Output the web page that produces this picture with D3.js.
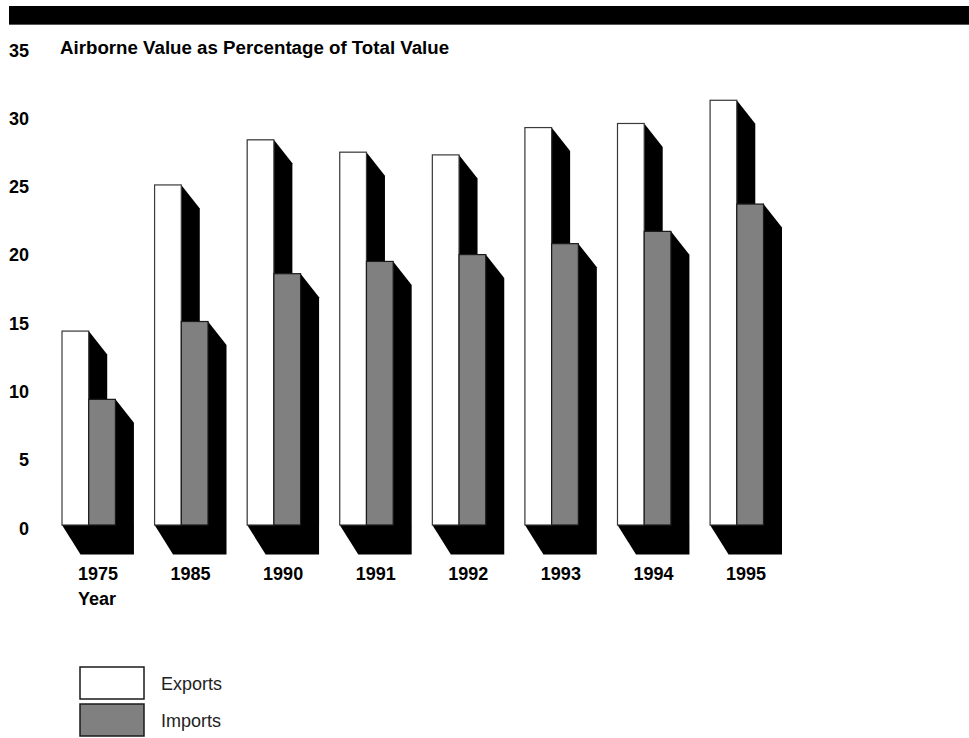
<!DOCTYPE html>
<html>
<head>
<meta charset="utf-8">
<script src="https://cdn.jsdelivr.net/npm/d3@7"></script>
<style>
  html, body { margin: 0; padding: 0; background: #fff; }
  svg { display: block; font-family: "Liberation Sans", Arial, Helvetica, sans-serif; }
</style>
</head>
<body>
<svg id="chart" width="969" height="738"></svg>
<script>
// ---- data ----
const years = ["1975", "1985", "1990", "1991", "1992", "1993", "1994", "1995"];
const seriesNames = ["Exports", "Imports"];
const exportsValues = [14.2, 24.9, 28.2, 27.3, 27.1, 29.1, 29.4, 31.1];
const importsValues = [9.2, 14.9, 18.4, 19.3, 19.8, 20.6, 21.5, 23.5];
const yTicks = [0, 5, 10, 15, 20, 25, 30, 35];
const titleText = "Airborne Value as Percentage of Total Value";
const xAxisTitle = "Year";

const seriesColors = { Exports: "#ffffff", Imports: "#808080" };
const seriesStroke = { Exports: "#3a3a3a", Imports: "#1a1a1a" };

const svg = d3.select("#chart");

// top black band
svg.append("rect").attr("x", 9).attr("y", 6).attr("width", 960).attr("height", 18).attr("fill", "#000");
svg.append("line").attr("x1", 9).attr("x2", 969).attr("y1", 24.5).attr("y2", 24.5).attr("stroke", "#555").attr("stroke-width", 1);

// scales
const y = d3.scaleLinear().domain([0, 35]).range([525, 47]);
const x = d3.scaleBand().domain(years).range([62, 763.5]).paddingInner(0.423).paddingOuter(0);
const xs = d3.scaleBand().domain(seriesNames).range([0, x.bandwidth()]).padding(0);

// y axis labels
const yAxis = d3.axisLeft(y).tickValues(yTicks).tickSize(0).tickPadding(0).tickFormat(d3.format("d"));
const gy = svg.append("g").attr("transform", "translate(29,0)").call(yAxis);
gy.select(".domain").remove();
gy.selectAll("text")
  .attr("dy", "0.5em")
  .attr("font-family", "Liberation Sans, Arial, sans-serif")
  .attr("font-size", 18).attr("font-weight", "bold").attr("fill", "#000");

// title
svg.append("text").attr("x", 60).attr("y", 54)
  .attr("font-size", 18.7).attr("font-weight", "bold").attr("fill", "#000")
  .text(titleText);

// bars with 3D shadow
const base = y(0);
const dxTop = 18.5, dyTop = 23.5, dxBase = 18.5, dyBase = 29.5;

const rows = years.map((yr, i) => ({ year: yr, values: [
  { name: "Exports", value: exportsValues[i] },
  { name: "Imports", value: importsValues[i] }
]}));

const groups = svg.append("g").selectAll("g").data(rows).join("g")
  .attr("transform", d => `translate(${x(d.year)},0)`);

// shadows first
groups.selectAll("polygon.shadow").data(d => d.values).join("polygon")
  .attr("class", "shadow")
  .attr("fill", "#000")
  .attr("points", d => {
    const x0 = xs(d.name), x1 = x0 + xs.bandwidth(), top = y(d.value);
    return [[x0, top], [x1, top], [x1 + dxTop, top + dyTop], [x1 + dxBase, base + dyBase],
            [x0 + dxBase, base + dyBase], [x0, base]].map(p => p.join(",")).join(" ");
  });

// bars
groups.selectAll("rect.bar").data(d => d.values).join("rect")
  .attr("class", "bar")
  .attr("x", d => xs(d.name))
  .attr("y", d => y(d.value))
  .attr("width", xs.bandwidth())
  .attr("height", d => base - y(d.value))
  .attr("fill", d => seriesColors[d.name])
  .attr("stroke", d => seriesStroke[d.name])
  .attr("stroke-width", 1.2);

// year labels
svg.append("g").selectAll("text").data(years).join("text")
  .attr("x", d => x(d) + (x.bandwidth() + dxBase) / 2)
  .attr("y", 580)
  .attr("text-anchor", "middle")
  .attr("font-size", 18).attr("font-weight", "bold").attr("fill", "#000")
  .text(d => d);

svg.append("text").attr("x", 78).attr("y", 605)
  .attr("font-size", 18).attr("font-weight", "bold").attr("fill", "#000")
  .text(xAxisTitle);

// legend
const legend = svg.append("g").selectAll("g").data(seriesNames).join("g")
  .attr("transform", (d, i) => `translate(80,${667 + i * 37})`);
legend.append("rect")
  .attr("x", 0).attr("y", 0).attr("width", 64).attr("height", 32)
  .attr("fill", d => seriesColors[d])
  .attr("stroke", "#1a1a1a").attr("stroke-width", 1.5);
legend.append("text")
  .attr("x", 81).attr("y", 17).attr("dy", "0.35em")
  .attr("font-size", 18).attr("fill", "#222")
  .text(d => d);
</script>
</body>
</html>
